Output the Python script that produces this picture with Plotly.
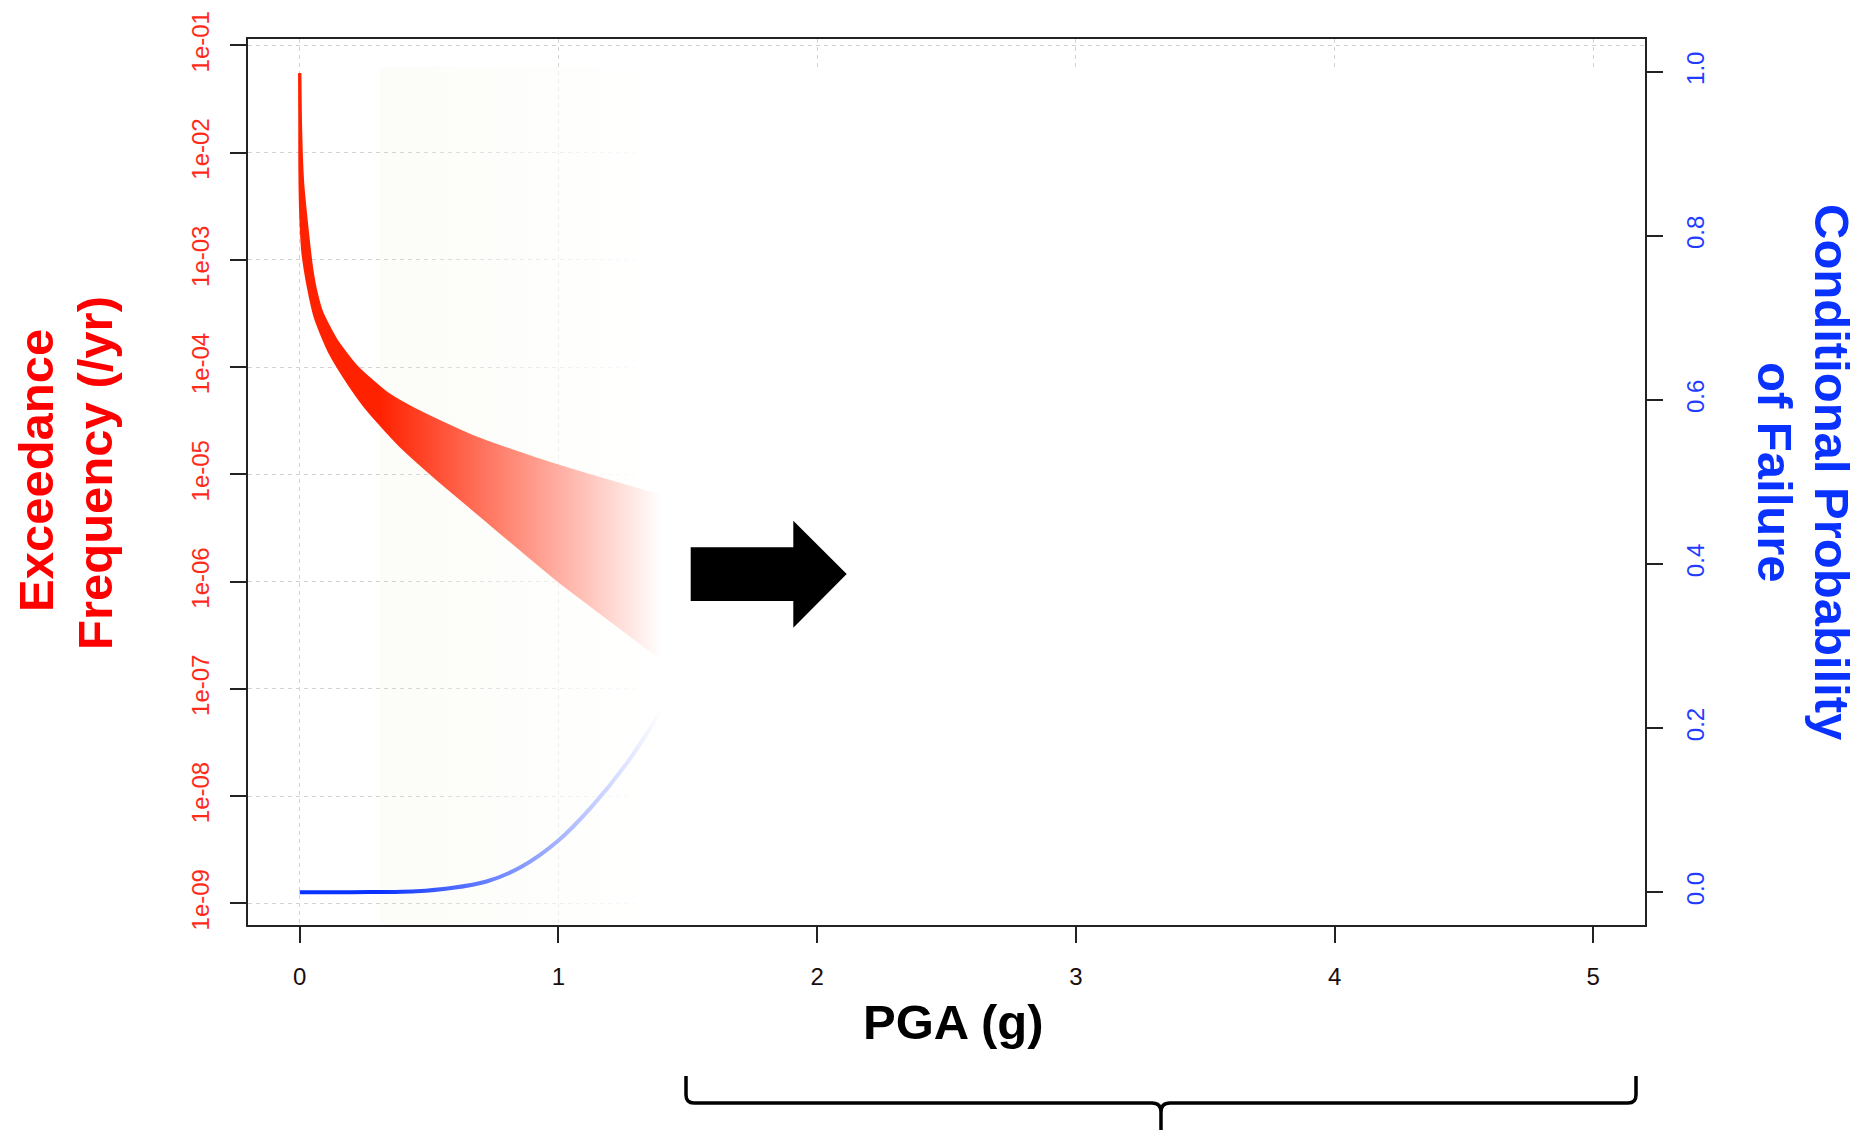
import plotly.graph_objects as go

# ---- hazard band: upper / lower exceedance-frequency curves (PGA in g, freq per yr)
pga_upper = [0.000, 0.002, 0.006, 0.012, 0.025, 0.037, 0.047, 0.063, 0.086, 0.140,
             0.218, 0.335, 0.465, 0.660, 0.919, 1.176, 1.400]
freq_upper = [5.5e-2, 2.5e-2, 1.0e-2, 5.0e-3, 2.34e-3, 1.26e-3, 8.1e-4, 5.0e-4, 3.2e-4,
              1.8e-4, 1.02e-4, 5.75e-5, 3.8e-5, 2.3e-5, 1.38e-5, 8.9e-6, 6.2e-6]

pga_lower = [0.000, 0.000, 0.001, 0.004, 0.012, 0.033, 0.062, 0.115, 0.193, 0.270,
             0.400, 0.530, 0.687, 1.000, 1.200, 1.400]
freq_lower = [5.5e-2, 1.0e-2, 5.0e-3, 2.5e-3, 1.17e-3, 5.6e-4, 2.8e-4, 1.38e-4, 6.8e-5,
              3.8e-5, 1.74e-5, 9.1e-6, 4.37e-6, 1.02e-6, 4.4e-7, 1.9e-7]

# ---- fragility curve: conditional probability of failure vs PGA
pga_frag = [0.00, 0.20, 0.35, 0.45, 0.586, 0.722, 0.857, 1.000, 1.128, 1.264, 1.400]
prob_frag = [0.000, 0.000, 0.0003, 0.001, 0.005, 0.013, 0.031, 0.063, 0.104, 0.157, 0.222]

# ---- axis ticks
x_ticks = [0, 1, 2, 3, 4, 5]
freq_ticks = [1e-9, 1e-8, 1e-7, 1e-6, 1e-5, 1e-4, 1e-3, 1e-2, 1e-1]
freq_labels = ["1e-09", "1e-08", "1e-07", "1e-06", "1e-05", "1e-04", "1e-03", "1e-02", "1e-01"]
prob_ticks = [0.0, 0.2, 0.4, 0.6, 0.8, 1.0]
prob_labels = ["0.0", "0.2", "0.4", "0.6", "0.8", "1.0"]

# ---- page geometry
W, H = 1868, 1130
ML, MR, MT, MB = 248, 223, 39, 205
PW, PH = W - ML - MR, H - MT - MB


def px_x(px):
    return (px - ML) / PW


def px_y(py):
    return (H - MB - py) / PH


FONT = "Liberation Sans, Arial, Helvetica, sans-serif"
RED = "#ff2200"
BLUE = "#0a32ff"
GRID = "#d2d2d2"

# fade region (PGA range) and top of the masking panel (probability scale)
FADE_START, FADE_END, MASK_TOP = 0.31, 1.40, 1.006

fig = go.Figure()

# hazard band
fig.add_trace(go.Scatter(x=pga_lower, y=freq_lower, mode="lines",
                         line=dict(color=RED, width=3, shape="spline", smoothing=0.6),
                         hoverinfo="skip", showlegend=False))
fig.add_trace(go.Scatter(x=pga_upper, y=freq_upper, mode="lines", fill="tonexty",
                         fillcolor=RED,
                         line=dict(color=RED, width=3, shape="spline", smoothing=0.6),
                         hoverinfo="skip", showlegend=False))

# fragility curve
fig.add_trace(go.Scatter(x=pga_frag, y=prob_frag, yaxis="y2", mode="lines",
                         line=dict(color=BLUE, width=4, shape="spline", smoothing=0.8),
                         hoverinfo="skip", showlegend=False))

# fading mask: transparent-to-white ramp, then solid white
fig.add_trace(go.Scatter(x=[FADE_START, FADE_END, FADE_END, FADE_START, FADE_START],
                         y=[MASK_TOP, MASK_TOP, -0.2, -0.2, MASK_TOP], yaxis="y2",
                         mode="lines", line=dict(width=0), fill="toself",
                         fillgradient=dict(type="horizontal",
                                           colorscale=[[0, "rgba(255,255,255,0)"],
                                                       [1, "rgba(255,255,255,1)"]]),
                         hoverinfo="skip", showlegend=False))
fig.add_trace(go.Scatter(x=[FADE_END - 0.005, 5.5, 5.5, FADE_END - 0.005, FADE_END - 0.005],
                         y=[MASK_TOP, MASK_TOP, -0.2, -0.2, MASK_TOP], yaxis="y2",
                         mode="lines", line=dict(width=0), fill="toself",
                         fillcolor="#ffffff", hoverinfo="skip", showlegend=False))

shapes = []
# faint tinted panel behind the fading zone
shapes.append(dict(type="rect", xref="x", yref="y2", x0=FADE_START, x1=FADE_END,
                   y0=-0.2, y1=MASK_TOP, fillcolor="#fcfdf8", line=dict(width=0),
                   layer="below"))

# block arrow
arrow_pts = [(690.7, 547.3), (793.3, 547.3), (793.3, 520.7), (846.7, 574.0),
             (793.3, 627.7), (793.3, 601.0), (690.7, 601.0)]
path = "M " + " L ".join(f"{px_x(a):.5f},{px_y(b):.5f}" for a, b in arrow_pts) + " Z"
shapes.append(dict(type="path", xref="paper", yref="paper", path=path,
                   fillcolor="#000000", line=dict(color="#000000", width=0)))


# curly brace under the axis
def P(a, b):
    return f"{px_x(a):.5f},{px_y(b):.5f}"


brace = (f"M {P(686, 1076)} L {P(686, 1095)} Q {P(686, 1103)} {P(694, 1103)} "
         f"L {P(1152, 1103)} Q {P(1161, 1103)} {P(1161, 1112)} L {P(1161, 1140)} "
         f"M {P(1161, 1112)} Q {P(1161, 1103)} {P(1170, 1103)} "
         f"L {P(1628, 1103)} Q {P(1636, 1103)} {P(1636, 1095)} L {P(1636, 1076)}")
shapes.append(dict(type="path", xref="paper", yref="paper", path=brace,
                   line=dict(color="#000000", width=3.5)))

annotations = [
    dict(text="Exceedance", x=px_x(36), y=px_y(471), textangle=-90),
    dict(text="Frequency (/yr)", x=px_x(95), y=px_y(473), textangle=-90),
    dict(text="Conditional Probability", x=px_x(1832), y=px_y(472), textangle=90),
    dict(text="of Failure", x=px_x(1775), y=px_y(472), textangle=90),
    dict(text="PGA (g)", x=px_x(953), y=px_y(1022), textangle=0),
]
colors = ["#ff0000", "#ff0000", "#0a32ff", "#0a32ff", "#000000"]
for a, c in zip(annotations, colors):
    a.update(xref="paper", yref="paper", showarrow=False, xanchor="center",
             yanchor="middle",
             font=dict(family=FONT, size=49, color=c, weight="bold"))

fig.update_layout(
    width=W, height=H,
    margin=dict(l=ML, r=MR, t=MT, b=MB, pad=0),
    paper_bgcolor="#ffffff", plot_bgcolor="#ffffff",
    showlegend=False,
    shapes=shapes,
    annotations=annotations,
    xaxis=dict(range=[-0.2, 5.2], tickvals=x_ticks, ticktext=[str(v) for v in x_ticks],
               showgrid=True, gridcolor=GRID, griddash="4px,4px", gridwidth=1,
               zeroline=False, showline=True, linecolor="#222222", linewidth=1.5,
               mirror=True, ticks="outside", ticklen=16, tickwidth=1.5,
               tickcolor="#222222", ticklabelstandoff=13,
               tickfont=dict(family=FONT, size=24, color="#1a0d0d")),
    yaxis=dict(type="log", range=[-9.202, -0.941], tickvals=freq_ticks,
               ticktext=freq_labels, tickangle=-90,
               showgrid=True, gridcolor=GRID, griddash="4px,4px", gridwidth=1,
               zeroline=False, showline=True, linecolor="#222222", linewidth=1.5,
               ticks="outside", ticklen=16, tickwidth=1.5, tickcolor="#222222",
               ticklabelstandoff=12,
               tickfont=dict(family=FONT, size=24, color="#ff2a1a")),
    yaxis2=dict(overlaying="y", side="right", range=[-0.04, 1.04],
                tickvals=prob_ticks, ticktext=prob_labels, tickangle=-90,
                showgrid=False, zeroline=False, showline=True, linecolor="#222222",
                linewidth=1.5, ticks="outside", ticklen=16, tickwidth=1.5,
                tickcolor="#222222", ticklabelstandoff=12,
                tickfont=dict(family=FONT, size=24, color="#1f3cff")),
)

fig.write_html("out.html")
